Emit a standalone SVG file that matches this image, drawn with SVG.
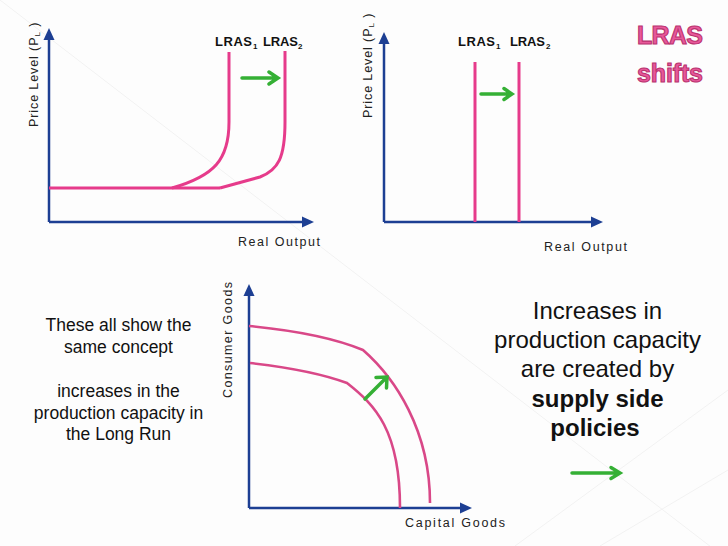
<svg xmlns="http://www.w3.org/2000/svg" width="728" height="546" viewBox="0 0 728 546">
<defs>
<style>
.axis{stroke:#1d3f93;stroke-width:2.5;fill:none}
.ah{fill:#1d3f93}
.curve{stroke:#e63b8b;stroke-width:3;fill:none;stroke-linejoin:round}
.ppf{stroke:#d94888;stroke-width:2.6;fill:none}
.garrow{stroke:#35b035;stroke-width:3.5;fill:none;stroke-linecap:round;stroke-linejoin:miter}
.lbl{font-family:"Liberation Sans",Arial,sans-serif;font-size:12.5px;fill:#222}
.lras{font-family:"Liberation Sans",Arial,sans-serif;font-size:13px;font-weight:bold;fill:#111}
.sub{font-size:8px}
.body{font-family:"Liberation Sans",Arial,sans-serif;fill:#111;text-anchor:middle}
.title{font-family:"Liberation Sans",Arial,sans-serif;font-size:25px;font-weight:bold;fill:#e8589a;stroke:#b9336f;stroke-width:1.1}
</style>
</defs>
<rect width="728" height="546" fill="#fdfdfd"/>
<g id="background" stroke="#f2f2f2" stroke-width="1" fill="none">
<line x1="0" y1="0" x2="728" y2="560"/>
<line x1="728" y1="390" x2="515" y2="546"/>
<line x1="728" y1="470" x2="600" y2="546"/>
</g>

<g id="title">
<text class="title" x="670" y="44" text-anchor="middle" textLength="66">LRAS</text>
<text class="title" x="670" y="82" text-anchor="middle" textLength="66">shifts</text>
</g>

<g id="graph1">
<line class="axis" x1="49" y1="222" x2="49" y2="38"/>
<polygon class="ah" points="49,28 43.5,40 54.5,40"/>
<line class="axis" x1="49" y1="222" x2="304" y2="222"/>
<polygon class="ah" points="314,222 302,216.5 302,227.5"/>
<text class="lbl" transform="translate(38,127) rotate(-90)" letter-spacing="0.9">Price Level (P<tspan class="sub" dy="2">L</tspan><tspan dy="-2"> )</tspan></text>
<text class="lbl" x="238" y="246" textLength="82" font-size="13">Real Output</text>
<text class="lras" x="215" y="46" textLength="37">LRAS</text>
<text class="lras sub" x="253" y="49">1</text>
<text class="lras" x="263" y="46" textLength="35">LRAS</text>
<text class="lras sub" x="298" y="49">2</text>
<path class="curve" d="M49,188 H220"/>
<path class="curve" d="M229,52 V122 C229,160 214,176 172,188"/>
<path class="curve" d="M285,51 V122 C285,158 278,170 260,177 L220,188"/>
<path class="garrow" d="M242,78 H277 M269,72 L278,78 L269,84"/>
</g>

<g id="graph2">
<line class="axis" x1="384" y1="222" x2="384" y2="42"/>
<polygon class="ah" points="384,32 378.5,44 389.5,44"/>
<line class="axis" x1="384" y1="222" x2="593" y2="222"/>
<polygon class="ah" points="603,222 591,216.5 591,227.5"/>
<text class="lbl" transform="translate(372,118) rotate(-90)" letter-spacing="0.9">Price Level (P<tspan class="sub" dy="2">L</tspan><tspan dy="-2"> )</tspan></text>
<text class="lbl" x="544" y="251" textLength="83" font-size="13">Real Output</text>
<text class="lras" x="458" y="46" textLength="37">LRAS</text>
<text class="lras sub" x="496" y="49">1</text>
<text class="lras" x="510" y="46" textLength="35">LRAS</text>
<text class="lras sub" x="546" y="49">2</text>
<line class="curve" x1="475" y1="62" x2="475" y2="222"/>
<line class="curve" x1="519" y1="62" x2="519" y2="222"/>
<path class="garrow" d="M481,94 H511 M504,88.5 L512,94 L504,99.5"/>
</g>

<g id="graph3">
<line class="axis" x1="249" y1="508" x2="249" y2="294"/>
<polygon class="ah" points="249,284 243.5,296 254.5,296"/>
<line class="axis" x1="249" y1="508" x2="462" y2="508"/>
<polygon class="ah" points="472,508 460,502.5 460,513.5"/>
<text class="lbl" transform="translate(232,398) rotate(-90)" textLength="116">Consumer Goods</text>
<text class="lbl" x="405" y="527" textLength="100" font-size="13">Capital Goods</text>
<path class="ppf" d="M249,326 Q322,333 363,350 C395,378 430,430 430,503"/>
<path class="ppf" d="M250,363 Q312,370 347,383 C375,405 400,430 400,508"/>
<path class="garrow" d="M365,399 L386,378 M376,377.5 L387,377 L386.5,388"/>
</g>

<g id="left-text" class="body" font-size="17.5">
<text x="118.5" y="331">These all show the</text>
<text x="118.5" y="353">same concept</text>
<text x="118.5" y="397">increases in the</text>
<text x="118.5" y="419">production capacity in</text>
<text x="118.5" y="440">the Long Run</text>
</g>

<g id="right-text" class="body" font-size="24">
<text x="597.5" y="319">Increases in</text>
<text x="597.5" y="348">production capacity</text>
<text x="597.5" y="377">are created by</text>
<text x="597.5" y="407" font-weight="bold">supply side</text>
<text x="595" y="436" font-weight="bold">policies</text>
<path class="garrow" d="M572,473 H619 M611,467.5 L620,473 L611,478.5"/>
</g>
</svg>
